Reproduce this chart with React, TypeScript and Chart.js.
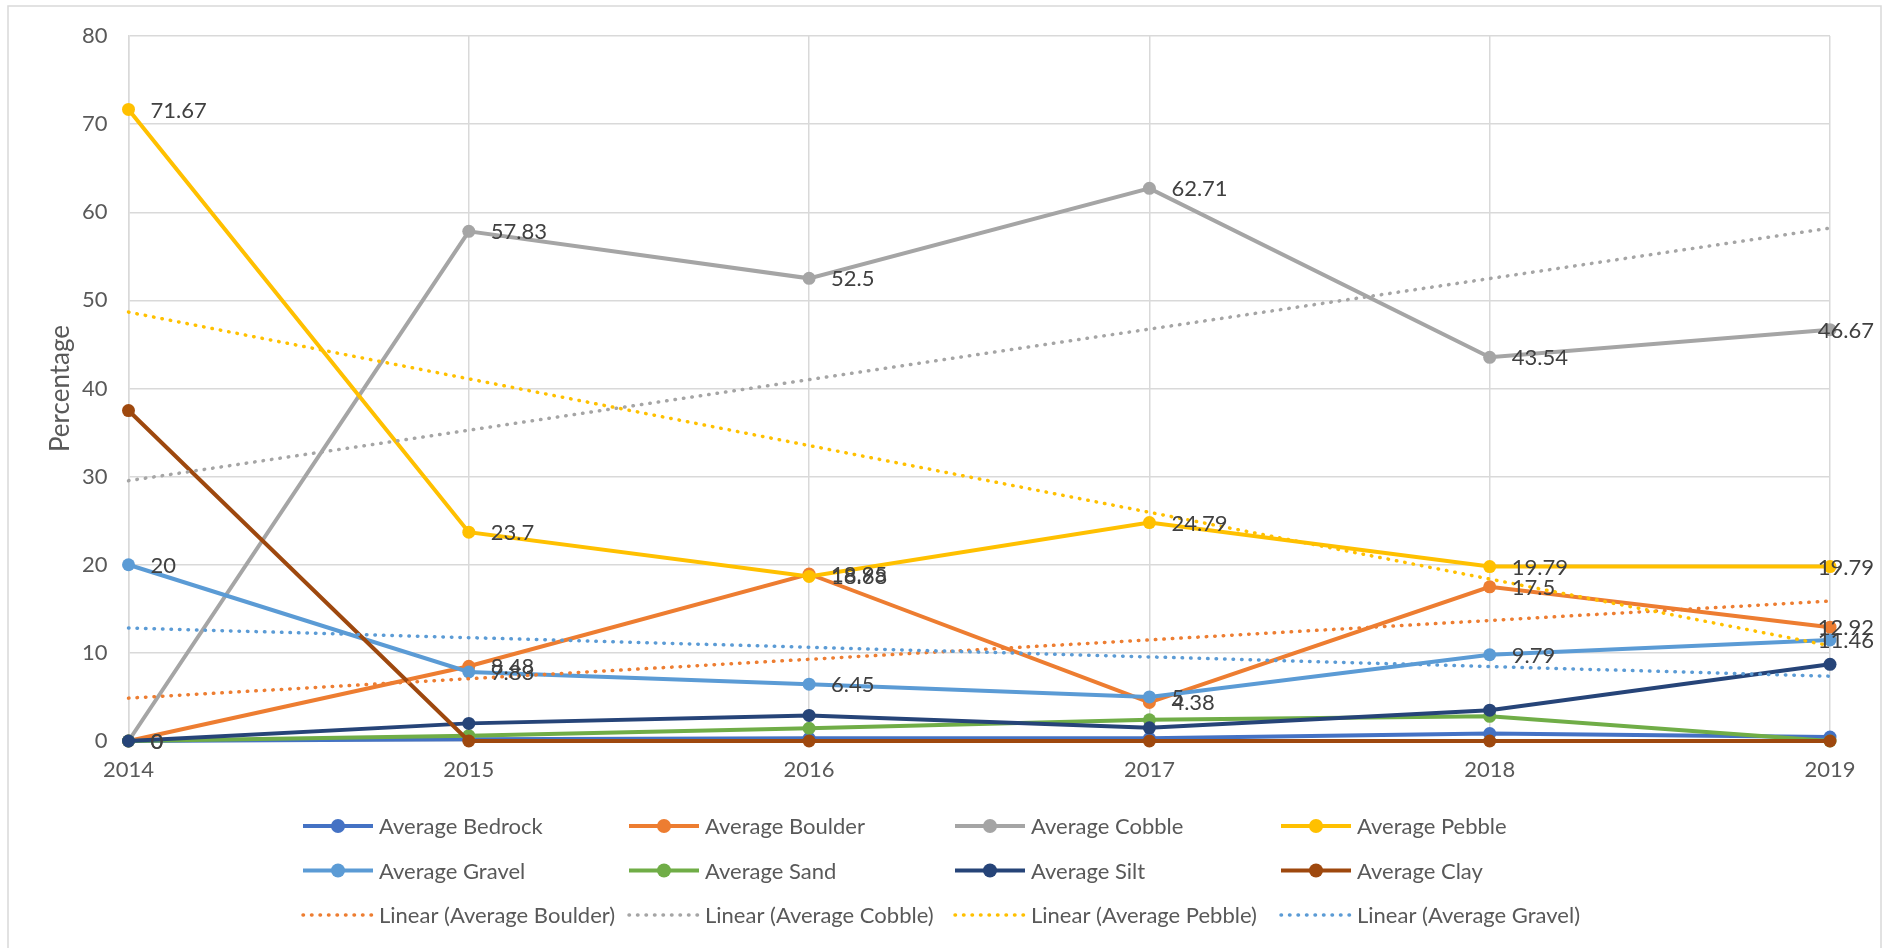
import { useEffect, useRef } from "react";
import { Chart, registerables } from "chart.js";

Chart.register(...registerables);

// Survey years
const years = ["2014", "2015", "2016", "2017", "2018", "2019"];

// Average substrate composition per year (percent)
const bedrock = [0, 0.2, 0.3, 0.3, 0.85, 0.45];
const boulder = [0, 8.48, 18.95, 4.38, 17.5, 12.92];
const cobble = [0, 57.83, 52.5, 62.71, 43.54, 46.67];
const pebble = [71.67, 23.7, 18.68, 24.79, 19.79, 19.79];
const gravel = [20, 7.83, 6.45, 5, 9.79, 11.46];
const sand = [0, 0.6, 1.45, 2.4, 2.8, 0];
const silt = [0, 2.0, 2.9, 1.5, 3.5, 8.7];
const clay = [37.5, 0, 0, 0, 0, 0];

// Value axis
const yMin = 0;
const yMax = 80;
const yStep = 10;
const yTitle = "Percentage";

const COLORS = {
  bedrock: "#4472C4",
  boulder: "#ED7D31",
  cobble: "#A5A5A5",
  pebble: "#FFC000",
  gravel: "#5B9BD5",
  sand: "#70AD47",
  silt: "#264478",
  clay: "#9E480E",
};

const FONT = "Lato, 'Open Sans', sans-serif";
const FONT_SIZE = 22;
const TITLE_SIZE = 26;

// Ordinary least squares fit over x = 1..n, like a spreadsheet linear trendline
function linearTrend(values: number[]): number[] {
  const n = values.length;
  const mx = (n + 1) / 2;
  const my = values.reduce((a, b) => a + b, 0) / n;
  let sxy = 0;
  let sxx = 0;
  values.forEach((y, i) => {
    const dx = i + 1 - mx;
    sxy += dx * (y - my);
    sxx += dx * dx;
  });
  const slope = sxy / sxx;
  return values.map((_, i) => my + slope * (i + 1 - mx));
}

type Series = { label: string; data: number[]; color: string; labelled: boolean };

const series: Series[] = [
  { label: "Average Bedrock", data: bedrock, color: COLORS.bedrock, labelled: false },
  { label: "Average Boulder", data: boulder, color: COLORS.boulder, labelled: true },
  { label: "Average Cobble", data: cobble, color: COLORS.cobble, labelled: true },
  { label: "Average Pebble", data: pebble, color: COLORS.pebble, labelled: true },
  { label: "Average Gravel", data: gravel, color: COLORS.gravel, labelled: true },
  { label: "Average Sand", data: sand, color: COLORS.sand, labelled: false },
  { label: "Average Silt", data: silt, color: COLORS.silt, labelled: false },
  { label: "Average Clay", data: clay, color: COLORS.clay, labelled: false },
];

const trendOf = [
  { label: "Average Boulder", data: boulder, color: COLORS.boulder },
  { label: "Average Cobble", data: cobble, color: COLORS.cobble },
  { label: "Average Pebble", data: pebble, color: COLORS.pebble },
  { label: "Average Gravel", data: gravel, color: COLORS.gravel },
];

const DOT_DASH = [0.5, 8];

// White background and the light frame around the chart
const framePlugin = {
  id: "frame",
  beforeDraw(chart: any) {
    const { ctx, width, height } = chart;
    ctx.save();
    ctx.fillStyle = "#ffffff";
    ctx.fillRect(0, 0, width, height);
    ctx.strokeStyle = "#D9D9D9";
    ctx.lineWidth = 1.5;
    ctx.strokeRect(8, 6, width - 10, height + 20);
    ctx.restore();
  },
};

// Value labels to the right of each point of the labelled series,
// pulled back inside the frame when they would run past its right edge
const valueLabelPlugin = {
  id: "valueLabels",
  afterDatasetsDraw(chart: any) {
    const { ctx } = chart;
    const rightLimit = chart.width - 9;
    ctx.save();
    ctx.font = `${FONT_SIZE}px ${FONT}`;
    ctx.fillStyle = "#404040";
    ctx.textAlign = "left";
    ctx.textBaseline = "middle";
    chart.data.datasets.forEach((ds: any, i: number) => {
      if (!ds.showValues) return;
      const meta = chart.getDatasetMeta(i);
      meta.data.forEach((pt: any, j: number) => {
        const text = String(ds.data[j]);
        const w = ctx.measureText(text).width;
        const x = Math.min(pt.x + 22, rightLimit - w);
        ctx.fillText(text, x, pt.y + 1);
      });
    });
    ctx.restore();
  },
};

// Four-column legend below the plot
const legendPlugin = {
  id: "gridLegend",
  afterDraw(chart: any) {
    const { ctx } = chart;
    const colX = [303, 629, 955, 1281];
    const rowY = [826, 870.5, 915];
    const lineLen = 70;
    ctx.save();
    ctx.font = `${FONT_SIZE}px ${FONT}`;
    ctx.textAlign = "left";
    ctx.textBaseline = "middle";
    chart.data.datasets.forEach((ds: any, i: number) => {
      const x = colX[i % 4];
      const y = rowY[Math.floor(i / 4)];
      ctx.strokeStyle = ds.borderColor;
      ctx.lineWidth = ds.borderWidth;
      ctx.lineCap = ds.borderDash && ds.borderDash.length ? "round" : "butt";
      ctx.setLineDash(ds.borderDash || []);
      ctx.beginPath();
      ctx.moveTo(x, y);
      ctx.lineTo(x + lineLen, y);
      ctx.stroke();
      ctx.setLineDash([]);
      if (ds.pointRadius > 0) {
        ctx.fillStyle = ds.pointBackgroundColor;
        ctx.beginPath();
        ctx.arc(x + lineLen / 2, y, 7, 0, Math.PI * 2);
        ctx.fill();
      }
      ctx.fillStyle = "#595959";
      ctx.fillText(ds.label, x + 76, y + 1);
    });
    ctx.restore();
  },
};

export default function App() {
  const canvasRef = useRef<HTMLCanvasElement | null>(null);

  useEffect(() => {
    if (!canvasRef.current) return;
    const n = series.length + trendOf.length;

    const lineSets = series.map((s, i) => ({
      type: "line" as const,
      label: s.label,
      data: s.data,
      borderColor: s.color,
      backgroundColor: s.color,
      pointBackgroundColor: s.color,
      pointBorderColor: s.color,
      pointBorderWidth: 0,
      pointRadius: 6.5,
      borderWidth: 4,
      tension: 0,
      fill: false,
      clip: false,
      showValues: s.labelled,
      order: n - i,
    }));

    const trendSets = trendOf.map((t, k) => ({
      type: "line" as const,
      label: `Linear (${t.label})`,
      data: linearTrend(t.data),
      borderColor: t.color,
      backgroundColor: t.color,
      borderWidth: 3.5,
      borderDash: DOT_DASH,
      borderCapStyle: "round" as const,
      pointRadius: 0,
      tension: 0,
      fill: false,
      clip: false,
      showValues: false,
      order: trendOf.length - k - 1 - n,
    }));

    const chart = new Chart(canvasRef.current, {
      type: "line",
      data: { labels: years, datasets: [...lineSets, ...trendSets] as any },
      options: {
        responsive: false,
        animation: false,
        events: [],
        layout: { padding: { left: 0, top: 36, right: 53, bottom: 0 } },
        plugins: {
          legend: { display: false },
          tooltip: { enabled: false },
          title: { display: false },
        },
        scales: {
          x: {
            type: "category",
            offset: false,
            grid: { color: "#D9D9D9", lineWidth: 1.5, drawTicks: false },
            border: { color: "#D9D9D9", width: 1.5 },
            ticks: {
              color: "#595959",
              font: { family: FONT, size: FONT_SIZE },
              padding: 16,
              maxRotation: 0,
              autoSkip: false,
            },
            afterFit(scale: any) {
              scale.height = 207;
            },
          },
          y: {
            min: yMin,
            max: yMax,
            grid: { color: "#D9D9D9", lineWidth: 1.5, drawTicks: false },
            border: { color: "#D9D9D9", width: 1.5 },
            ticks: {
              stepSize: yStep,
              color: "#595959",
              font: { family: FONT, size: FONT_SIZE },
              padding: 21,
            },
            title: {
              display: true,
              text: yTitle,
              color: "#595959",
              font: { family: FONT, size: TITLE_SIZE },
              padding: { top: 45, bottom: 0 },
            },
            afterFit(scale: any) {
              scale.width = 128.5;
            },
          },
        },
      },
      plugins: [framePlugin, valueLabelPlugin, legendPlugin],
    });

    return () => chart.destroy();
  }, []);

  return (
    <canvas
      ref={canvasRef}
      width={1883}
      height={948}
      style={{ position: "absolute", left: 0, top: 0, display: "block" }}
    />
  );
}
